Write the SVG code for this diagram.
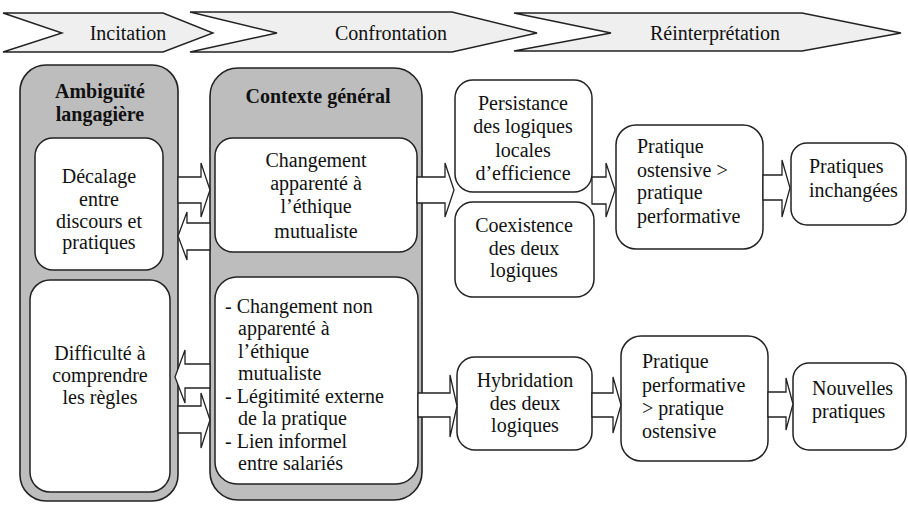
<svg xmlns="http://www.w3.org/2000/svg" width="908" height="505" viewBox="0 0 908 505" font-family="Liberation Serif" font-size="20" fill="#111">
<style>
text{font-family:"Liberation Serif","Times New Roman",serif;font-size:20px;fill:#111}
.b{font-weight:bold}
.c{text-anchor:middle}
.ban{fill:#efefef;stroke:#222;stroke-width:1.4}
.grp{fill:#bdbdbd;stroke:#222;stroke-width:1.6}
.box{fill:#fff;stroke:#222;stroke-width:1.5}
.arr{fill:#fff;stroke:#222;stroke-width:1.3;stroke-linejoin:miter}
</style>
<rect width="908" height="505" fill="#fff"/>
<g id="banner">
<polygon class="ban" points="3,13 163,13 213,33 163,52 3,52 62,33"/>
<polygon class="ban" points="190,12 452,12 537,33 452,52 190,52 277,33"/>
<polygon class="ban" points="514,13 802,13 901,33 802,51 514,51 611,33"/>
<text class="c" x="128" y="40">Incitation</text>
<text class="c" x="391" y="40">Confrontation</text>
<text class="c" x="715" y="40">Réinterprétation</text>
</g>
<g id="ambiguite">
<rect class="grp" x="20" y="65" width="158" height="436" rx="26"/>
<text class="b c" x="100" y="98">Ambiguïté</text>
<text class="b c" x="100" y="121">langagière</text>
</g>
<g id="decalage">
<rect class="box" x="35" y="138" width="128" height="132" rx="18"/>
<text class="c" x="99" y="183">Décalage</text>
<text class="c" x="99" y="206">entre</text>
<text class="c" x="99" y="228">discours et</text>
<text class="c" x="99" y="249">pratiques</text>
</g>
<g id="difficulte">
<rect class="box" x="30" y="280" width="140" height="212" rx="20"/>
<text class="c" x="100" y="360">Difficulté à</text>
<text class="c" x="100" y="382">comprendre</text>
<text class="c" x="100" y="404">les règles</text>
</g>
<g id="contexte">
<rect class="grp" x="210" y="68" width="212" height="432" rx="28"/>
<text class="b c" x="318" y="103">Contexte général</text>
</g>
<g id="changement-apparente">
<rect class="box" x="215" y="138" width="202" height="114" rx="18"/>
<text class="c" x="316" y="167">Changement</text>
<text class="c" x="316" y="190">apparenté à</text>
<text class="c" x="316" y="213">l’éthique</text>
<text class="c" x="316" y="238">mutualiste</text>
</g>
<g id="changement-non-apparente">
<rect class="box" x="215" y="277" width="203" height="207" rx="22"/>
<text x="225" y="313">- Changement non</text>
<text x="238" y="335">apparenté à</text>
<text x="238" y="358">l’éthique</text>
<text x="238" y="380">mutualiste</text>
<text x="225" y="403">- Légitimité externe</text>
<text x="238" y="425">de la pratique</text>
<text x="225" y="448">- Lien informel</text>
<text x="238" y="470">entre salariés</text>
</g>
<g id="persistance">
<rect class="box" x="455" y="80" width="137" height="112" rx="18"/>
<text class="c" x="523" y="110">Persistance</text>
<text class="c" x="523" y="133">des logiques</text>
<text class="c" x="523" y="157">locales</text>
<text class="c" x="523" y="180">d’efficience</text>
</g>
<g id="coexistence">
<rect class="box" x="455" y="202" width="139" height="95" rx="18"/>
<text class="c" x="524" y="232">Coexistence</text>
<text class="c" x="524" y="255">des deux</text>
<text class="c" x="524" y="277">logiques</text>
</g>
<g id="pratique-ostensive">
<rect class="box" x="616" y="125" width="147" height="124" rx="20"/>
<text x="637" y="153">Pratique</text>
<text x="637" y="177">ostensive &gt;</text>
<text x="637" y="199">pratique</text>
<text x="637" y="223">performative</text>
</g>
<g id="pratiques-inchangees">
<rect class="box" x="791" y="143" width="115" height="82" rx="16"/>
<text x="809" y="173">Pratiques</text>
<text x="809" y="197">inchangées</text>
</g>
<g id="hybridation">
<rect class="box" x="457" y="357" width="135" height="93" rx="18"/>
<text class="c" x="525" y="387">Hybridation</text>
<text class="c" x="525" y="410">des deux</text>
<text class="c" x="525" y="432">logiques</text>
</g>
<g id="pratique-performative">
<rect class="box" x="621" y="336" width="147" height="125" rx="20"/>
<text x="642" y="368">Pratique</text>
<text x="642" y="392">performative</text>
<text x="642" y="415">&gt; pratique</text>
<text x="642" y="438">ostensive</text>
</g>
<g id="nouvelles-pratiques">
<rect class="box" x="793" y="363" width="113" height="87" rx="16"/>
<text x="812" y="395">Nouvelles</text>
<text x="812" y="418">pratiques</text>
</g>
<g id="connectors">
<polygon class="arr" points="178,177 201,177 201,163 210,190 201,217 201,203 178,203"/>
<polygon class="arr" points="210,223 187,223 187,212 178,236 187,260 187,250 210,250"/>
<polygon class="arr" points="210,364 185,364 185,350 175,377 185,403 185,388 210,388"/>
<polygon class="arr" points="178,406 201,406 201,393 210,420 201,448 201,433 178,433"/>
<polygon class="arr" points="417,177 445,177 445,163 454,190 445,217 445,203 417,203"/>
<polygon class="arr" points="592,177 606,177 606,163 615,190 606,217 606,204 592,204"/>
<polygon class="arr" points="763,175 782,175 782,160 790,188 782,217 782,200 763,200"/>
<polygon class="arr" points="418,393 450,393 450,375 457,406 450,437 450,417 418,417"/>
<polygon class="arr" points="592,393 613,393 613,377 621,405 613,433 613,417 592,417"/>
<polygon class="arr" points="768,392 786,392 786,378 793,404 786,430 786,417 768,417"/>
</g>
</svg>
